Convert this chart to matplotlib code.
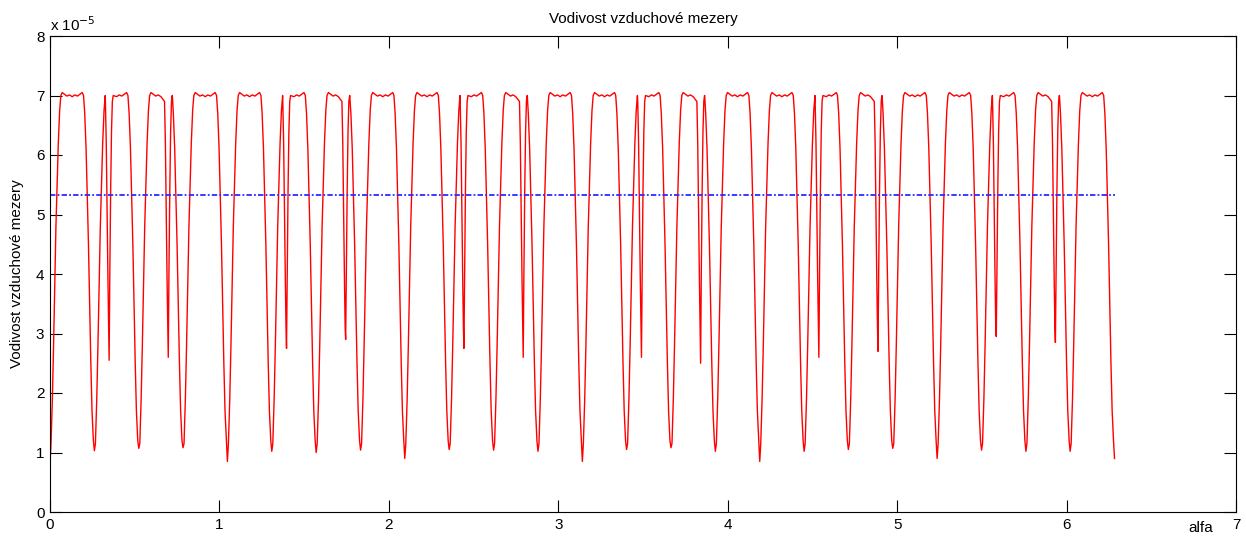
import matplotlib
matplotlib.use("Agg")
import matplotlib.pyplot as plt
from matplotlib.ticker import FuncFormatter

plt.rcParams['font.family'] = ['Liberation Sans', 'DejaVu Sans']

# Hodnoty, vodivost v jednotkach 1e-5
# polohy a hloubky drazek statoru (po 15 stupnich)
stator_alfa = [0.000, 0.262, 0.524, 0.785, 1.047, 1.309, 1.571, 1.833, 2.094,
               2.356, 2.618, 2.880, 3.142, 3.403, 3.665, 3.927, 4.189, 4.451,
               4.712, 4.974, 5.236, 5.498, 5.760, 6.021, 6.283]
stator_min = [0.80, 1.03, 1.07, 1.08, 0.85, 1.02, 1.00, 1.04, 0.90,
              1.05, 1.04, 1.02, 0.85, 1.05, 1.08, 1.02, 0.85, 1.02,
              1.05, 1.07, 0.90, 1.04, 1.02, 1.02, 0.90]

# uzke propady od drazek rotoru (mimo tech, ktere splyvaji se statorem)
rotor_alfa = [0.349, 0.698, 1.396, 1.745, 2.443, 2.793,
              3.491, 3.840, 4.538, 4.887, 5.585, 5.934]
rotor_min = [2.55, 2.60, 2.75, 2.90, 2.75, 2.60,
             2.60, 2.50, 2.60, 2.70, 2.95, 2.85]

# tvar propadu statoru (odstup od stredu, hodnota)
dip_offset = [-0.064, -0.057, -0.049, -0.042, -0.035, -0.028, -0.021, -0.014, -0.006,
              0.006, 0.014, 0.021, 0.028, 0.035, 0.042, 0.049, 0.057, 0.064]
dip_level = [7.00, 6.70, 6.10, 5.30, 4.50, 3.50, 2.50, 1.70, 1.20,
             1.15, 1.90, 2.80, 3.80, 4.80, 5.50, 6.20, 6.75, 7.00]

# tvar propadu rotoru
rotor_offset = [-0.022, -0.017, -0.012, -0.007, -0.003, 0.004, 0.009, 0.014, 0.019, 0.024]
rotor_level = [6.90, 6.20, 5.00, 3.90, 3.10, 4.00, 5.40, 6.40, 6.90, 7.00]

# zvlneni rovneho vrcholu mezi drazkami
top_offset = [0.072, 0.086, 0.100, 0.115, 0.131, 0.147, 0.162, 0.176, 0.190]
top_level = [7.05, 7.02, 6.99, 7.01, 6.98, 7.01, 6.99, 7.02, 7.05]

G_mean = 5.33
alfa_end = 6.283
skala = 1e-5

# poskladani krivky
body = []
for c, m in zip(stator_alfa, stator_min):
    body.append((c, m))
    for o, g in zip(dip_offset, dip_level):
        body.append((c + o, g))
for c in stator_alfa[:-1]:
    for o, g in zip(top_offset, top_level):
        x = c + o
        if all(abs(x - r) > 0.03 for r in rotor_alfa):
            body.append((x, g))
for r, m in zip(rotor_alfa, rotor_min):
    body.append((r, m))
    for o, g in zip(rotor_offset, rotor_level):
        body.append((r + o, g))
body = sorted(p for p in body if 0 <= p[0] <= alfa_end)
alfa = [p[0] for p in body]
G = [p[1] * skala for p in body]

fig = plt.figure(figsize=(12.46, 5.41), dpi=100)
ax = fig.add_axes([50 / 1246, 29 / 541, 1186 / 1246, 476 / 541])

ax.plot(alfa, G, color='#ff0000', lw=1.0)
ax.plot([0, alfa_end], [G_mean * skala, G_mean * skala], color='#2b2bff', lw=1.3,
        linestyle=(0, (3, 1.2, 1, 1.2)))

ax.set_xlim(0, 7)
ax.set_ylim(0, 8 * skala)
ax.set_xticks(range(0, 8))
ax.set_yticks([i * skala for i in range(0, 9)])
ax.yaxis.set_major_formatter(FuncFormatter(lambda v, p: "%g" % round(v / skala, 6)))

ax.tick_params(direction='in', length=8.5, width=0.8, top=True, right=True,
               labelsize=11, pad=4)
for s in ax.spines.values():
    s.set_linewidth(0.8)

ax.set_title("Vodivost vzduchové mezery", fontsize=11, pad=9)
ax.set_ylabel("Vodivost vzduchové mezery", fontsize=11)
ax.yaxis.set_label_coords(-0.022, 0.5)
ax.set_xlabel("alfa", fontsize=11)
ax.xaxis.set_label_coords(0.970, -0.018)
ax.text(0.0, 1.004, r"x 10$^{-5}$", transform=ax.transAxes, ha='left', va='bottom',
        fontsize=11)

fig.savefig("out.png", dpi=100)
